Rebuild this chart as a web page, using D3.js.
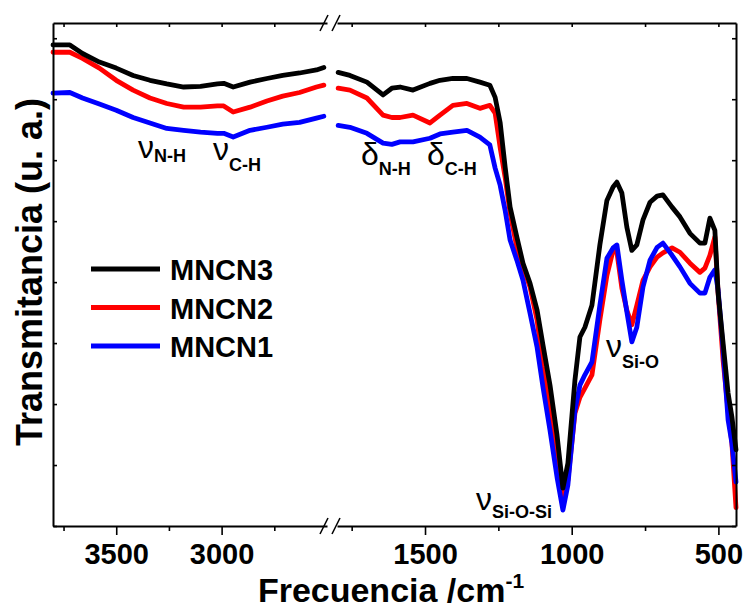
<!DOCTYPE html>
<html>
<head>
<meta charset="utf-8">
<script src="https://cdn.jsdelivr.net/npm/d3@7"></script>
<style>
  body { margin: 0; background: #fff; }
  svg { display: block; font-family: "Liberation Sans", Arial, sans-serif; }
</style>
</head>
<body>
<svg width="743" height="609"></svg>
<script>
// wavenumbers (cm-1) of the two parts of the broken axis
const wnLeft = [3800, 3720, 3660, 3580, 3500, 3420, 3340, 3260, 3180, 3100, 3020, 2990, 2945, 2865, 2785, 2710, 2630, 2550, 2515];
const wnRight = [1796, 1756, 1698, 1643, 1613, 1585, 1541, 1483, 1449, 1405,
  1357, 1313, 1279, 1261, 1244, 1227, 1210, 1187, 1166, 1142,
  1118, 1098, 1074, 1050, 1030, 1013, 989, 972, 955, 931,
  904, 880, 859, 846, 829, 812, 795, 778, 757, 733,
  709, 689, 658, 631, 597, 563, 546, 529, 512, 501,
  484, 467, 454, 440];

// transmittance (u. a.)
const mncn3Left = [78.9, 78.9, 77.5, 76.1, 75.1, 73.9, 73.1, 72.5, 72.0, 72.1, 72.5, 72.6, 72.0, 72.8, 73.4, 73.9, 74.3, 74.8, 75.2];
const mncn2Left = [77.7, 77.7, 76.7, 75.1, 73.1, 71.5, 70.2, 69.3, 68.7, 68.7, 68.9, 68.9, 67.9, 68.7, 69.7, 70.5, 71.1, 72.0, 72.3];
const mncn1Left = [71.0, 71.1, 70.2, 69.2, 68.2, 67.0, 66.1, 65.2, 64.9, 64.6, 64.4, 64.4, 63.8, 64.9, 65.4, 65.9, 66.2, 66.9, 67.2];

const mncn3Right = [74.4, 73.9, 72.8, 70.7, 71.8, 72.0, 71.5, 72.6, 73.1, 73.4,
  73.4, 72.8, 72.3, 70.3, 66.2, 58.9, 52.3, 47.4, 43.1, 39.8,
  35.4, 29.7, 23.1, 14.9, 6.2, 10.3, 23.9, 31.0, 32.6, 36.2,
  46.1, 53.4, 55.6, 56.4, 54.6, 49.0, 45.2, 46.1, 50.2, 53.1,
  54.1, 54.3, 52.3, 50.7, 48.0, 46.4, 46.4, 50.5, 48.5, 38.2,
  30.0, 21.8, 17.9, 12.5];
const mncn2Right = [71.8, 71.5, 70.2, 67.4, 67.0, 67.0, 67.4, 66.1, 67.4, 69.0,
  69.3, 68.5, 69.0, 67.7, 62.1, 57.2, 51.3, 45.7, 42.5, 39.2,
  33.8, 26.1, 18.5, 10.3, 3.8, 7.5, 18.5, 21.1, 22.6, 24.8,
  33.8, 41.1, 45.2, 44.9, 39.0, 35.4, 33.0, 36.2, 40.3, 42.5,
  44.1, 44.8, 45.6, 44.9, 43.1, 41.6, 42.3, 44.4, 47.4, 38.2,
  27.2, 19.0, 13.6, 3.0];
const mncn1Right = [65.7, 65.4, 64.4, 62.8, 62.6, 63.0, 63.0, 63.6, 64.3, 64.6,
  64.9, 63.8, 62.5, 58.7, 55.9, 51.8, 46.9, 43.6, 40.3, 34.9,
  29.3, 22.8, 15.7, 8.0, 2.6, 6.7, 19.0, 23.1, 24.8, 26.9,
  36.2, 43.9, 45.6, 46.1, 40.3, 35.1, 30.2, 32.6, 39.2, 43.6,
  45.7, 46.4, 44.4, 42.5, 39.8, 38.2, 38.2, 40.8, 42.0, 38.7,
  28.9, 17.4, 13.6, 7.2];

const seriesNames = ["MNCN3", "MNCN2", "MNCN1"];
const seriesColors = ["#000000", "#ff0000", "#0000ff"];

const majorLeft = [3500, 3000];
const minorLeft = [3750, 3250, 2750];
const majorRight = [1500, 1000, 500];
const minorRight = [1750, 1250, 750];
const yTicks = [0, 10, 20, 30, 40, 50, 60, 70, 80];

const svg = d3.select("svg");
const margin = { top: 23, right: 7, bottom: 83, left: 53 };
const width = +svg.attr("width");
const height = +svg.attr("height");
const innerBottom = height - margin.bottom;
const innerRight = width - margin.right;

const xLeft = d3.scaleLinear().domain([3800, 2500]).range([margin.left, 327]);
const xRight = d3.scaleLinear().domain([1800, 440]).range([337, innerRight]);
const y = d3.scaleLinear().domain([0, 82.5]).range([innerBottom, margin.top]);

svg.append("rect").attr("width", width).attr("height", height).attr("fill", "#fff");

// curves
const segments = [
  { x: xLeft, wn: wnLeft, vals: [mncn3Left, mncn2Left, mncn1Left] },
  { x: xRight, wn: wnRight, vals: [mncn3Right, mncn2Right, mncn1Right] }
];
const drawOrder = [1, 2, 0];
segments.forEach((seg) => {
  const line = d3.line()
    .x((d) => seg.x(d[0]))
    .y((d) => y(d[1]));
  drawOrder.forEach((i) => {
    svg.append("path")
      .datum(seg.wn.map((w, j) => [w, seg.vals[i][j]]))
      .attr("fill", "none")
      .attr("stroke", seriesColors[i])
      .attr("stroke-width", 4.8)
      .attr("stroke-linejoin", "round")
      .attr("stroke-linecap", "round")
      .attr("d", line);
  });
});

// axes
const styleAxis = (g) => {
  g.selectAll(".domain").attr("stroke", "#000").attr("stroke-width", 2);
  g.selectAll(".tick line").attr("stroke", "#000").attr("stroke-width", 1.6);
};
const tickText = (g) => {
  g.selectAll("text")
    .attr("y", 38)
    .attr("dy", 0)
    .attr("fill", "#000")
    .style("font-size", "29px")
    .style("font-weight", "bold");
};

[[xLeft, majorLeft, minorLeft], [xRight, majorRight, minorRight]].forEach(([sc, major, minor]) => {
  svg.append("g")
    .attr("transform", `translate(0,${innerBottom})`)
    .call(d3.axisBottom(sc).tickValues(minor).tickFormat("").tickSize(5).tickSizeOuter(0))
    .call(styleAxis);
  svg.append("g")
    .attr("transform", `translate(0,${innerBottom})`)
    .call(d3.axisBottom(sc).tickValues(major).tickFormat(d3.format("d")).tickSize(9).tickSizeOuter(0))
    .call(styleAxis)
    .call(tickText)
    .select(".domain").remove();
  svg.append("g")
    .attr("transform", `translate(0,${margin.top})`)
    .call(d3.axisTop(sc).tickValues(major.concat(minor)).tickFormat("").tickSize(-4).tickSizeOuter(0))
    .call(styleAxis);
});

svg.append("g")
  .attr("transform", `translate(${margin.left},0)`)
  .call(d3.axisLeft(y).tickValues(yTicks).tickFormat("").tickSize(-4).tickSizeOuter(0))
  .call(styleAxis);
svg.append("g")
  .attr("transform", `translate(${innerRight},0)`)
  .call(d3.axisRight(y).tickValues(yTicks).tickFormat("").tickSize(-4).tickSizeOuter(0))
  .call(styleAxis);

// break marks
const breakX = 330;
[margin.top, innerBottom].forEach((yy) => {
  [-6, 6].forEach((off) => {
    svg.append("line")
      .attr("x1", breakX + off - 4).attr("y1", yy + 8)
      .attr("x2", breakX + off + 4).attr("y2", yy - 8)
      .attr("stroke", "#000").attr("stroke-width", 1.6);
  });
});

// axis titles
const xTitle = svg.append("text")
  .attr("x", 391).attr("y", 601.5)
  .attr("text-anchor", "middle")
  .style("font-size", "34px").style("font-weight", "bold")
  .text("Frecuencia /cm");
xTitle.append("tspan").attr("dy", -14).style("font-size", "21px").text("-1");

svg.append("text")
  .attr("transform", `translate(42,272) rotate(-90)`)
  .attr("text-anchor", "middle")
  .style("font-size", "36px").style("font-weight", "bold")
  .text("Transmitancia (u. a.)");

// legend
seriesNames.forEach((name, i) => {
  const ly = 269 + i * 38.5;
  svg.append("line")
    .attr("x1", 91).attr("x2", 160).attr("y1", ly).attr("y2", ly)
    .attr("stroke", seriesColors[i]).attr("stroke-width", 5);
  svg.append("text")
    .attr("x", 170).attr("y", ly + 11)
    .style("font-size", "29px").style("font-weight", "bold")
    .text(name);
});

// band labels
const bands = [
  { sym: "ν", sub: "N-H", x: 138, y: 158, sy: 162 },
  { sym: "ν", sub: "C-H", x: 213, y: 160, sy: 171 },
  { sym: "δ", sub: "N-H", x: 361, y: 165, sy: 175 },
  { sym: "δ", sub: "C-H", x: 427, y: 165, sy: 175 },
  { sym: "ν", sub: "Si-O", x: 606, y: 357, sy: 368 },
  { sym: "ν", sub: "Si-O-Si", x: 476, y: 510, sy: 518 }
];
bands.forEach((b) => {
  const t = svg.append("text").attr("x", b.x).attr("y", b.y);
  t.append("tspan").style("font-size", "32px").text(b.sym);
  t.append("tspan")
    .attr("dy", b.sy - b.y)
    .style("font-size", "18px").style("font-weight", "bold")
    .text(b.sub);
});
</script>
</body>
</html>
